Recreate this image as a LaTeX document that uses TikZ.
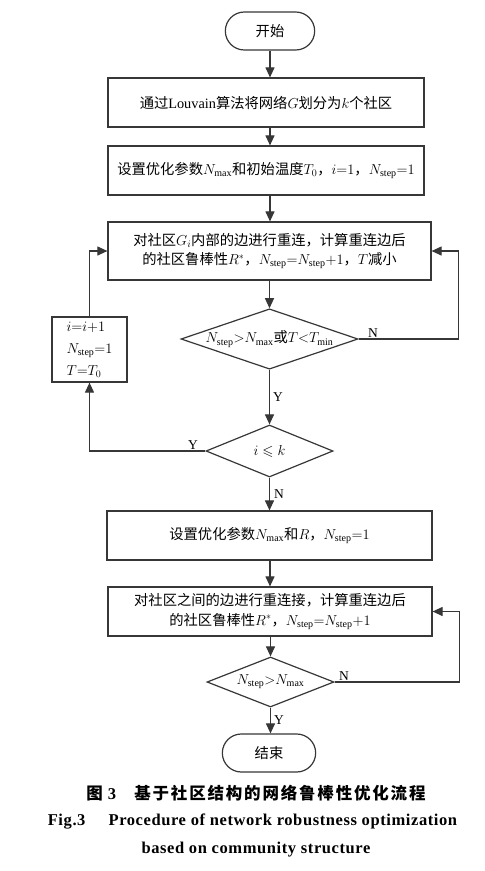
\documentclass[tikz,border=0pt]{standalone}
\usepackage{amsmath}
\usepackage{amssymb}
\usepackage{fontspec}
\setmainfont{Liberation Serif}
\newfontfamily\cjk{Noto Sans CJK SC}
\usetikzlibrary{shapes.geometric, shapes.misc, arrows.meta}
\definecolor{Linea}{RGB}{55, 55, 55}

\begin{document}
\begin{tikzpicture}[x=1pt, y=-1pt,
        terminal/.style={rounded rectangle, draw=Linea, line width=1.2pt, minimum width=96, minimum height=38, font=\cjk\fontsize{14.3}{17}\selectfont},
        process/.style={rectangle, draw=Linea, line width=1.2pt, minimum height=49, inner sep=0pt, align=center, font=\cjk\fontsize{14.3}{19.5}\selectfont},
        decision/.style={diamond, draw=Linea, line width=1.2pt, inner sep=0pt, shape aspect=2.9, font=\cjk\fontsize{14.3}{17}\selectfont},
        tag/.style={font=\fontsize{13.5}{15}\selectfont, inner sep=1pt},
        flow/.style={draw=Linea, line width=1.1pt, -{Triangle[length=10pt, width=9pt]}},
        caption/.style={font=\bfseries\fontsize{16.5}{19}\selectfont\addfontfeature{LetterSpace=3.6}}
    ]
        \path[use as bounding box, fill=white] (0,0) rectangle (485,871);

        % 主流程：社区内部重连
        \node[terminal] (start) at (270,31) {开始};
        \node[process, minimum width=316] (init) at (266,102.5) {通过{\rmfamily Louvain}算法将网络$G$划分为$k$个社区};
        \node[process, minimum width=316] (param) at (266,170.5) {设置优化参数$N_{\max}$和初始温度$T_0$，$i{=}1$，$N_{\mathrm{step}}{=}1$};
        \node[process, minimum width=323, minimum height=58] (inner) at (269.5,251) {对社区$G_i$内部的边进行重连，计算重连边后\\的社区鲁棒性$R^*$，$N_{\mathrm{step}}{=}N_{\mathrm{step}}{+}1$，$T$减小};
        \node[decision, minimum width=177, minimum height=60] (check1) at (269.5,339) {$N_{\mathrm{step}}{>}N_{\max}$或$T{<}T_{\min}$};
        \node[process, minimum width=75, minimum height=65, align=left, font=\fontsize{14.3}{22}\selectfont] (reset) at (89.5,349.5) {$i{=}i{+}1$\\$N_{\mathrm{step}}{=}1$\\$T{=}T_0$};
        \node[decision, minimum width=127, minimum height=52, shape aspect=2.5] (check2) at (269.5,451) {$i\leqslant k$};

        % 社区之间重连
        \node[process, minimum width=325] (outer) at (269.5,535.5) {设置优化参数$N_{\max}$和$R$，$N_{\mathrm{step}}{=}1$};
        \node[process, minimum width=324] (rewire) at (270,611.5) {对社区之间的边进行重连接，计算重连边后\\的社区鲁棒性$R^*$，$N_{\mathrm{step}}{=}N_{\mathrm{step}}{+}1$};
        \node[decision, minimum width=127, minimum height=50, shape aspect=2.5] (check3) at (270.5,682) {$N_{\mathrm{step}}{>}N_{\max}$};
        \node[terminal, minimum width=100] (stop) at (269,753) {结束};

        % 连线
        \draw[flow] (start.south) -- (init.north -| start);
        \draw[flow] (init.south -| start) -- (param.north -| start);
        \draw[flow] (param.south -| start) -- (inner.north -| start);
        \draw[flow] (inner.south -| check1) -- (check1.north);
        \draw[flow] (check1.east) node[tag, above right, xshift=8pt] {N} -- ++(100,0) |- (inner.east);
        \draw[flow] (check1.south) -- node[tag, right, xshift=2pt] {Y} (check2.north);
        \draw[flow] (check2.west) node[tag, above left, xshift=-6pt] {Y} -| (reset.south);
        \draw[flow] (reset.north) |- (inner.west);
        \draw[flow] (check2.south) -- node[tag, right, xshift=3pt] {N} (outer.north -| check2);
        \draw[flow] (outer.south -| rewire) -- (rewire.north);
        \draw[flow] (rewire.south -| check3) -- (check3.north);
        \draw[flow] (check3.east) node[tag, above right, xshift=3pt] {N} -- ++(125,0) |- (rewire.east);
        \draw[flow] (check3.south) -- node[tag, right, xshift=2pt] {Y} (stop.north -| check3);

        % 图题
        \node[caption] (cap1) at (256,793) {{\cjk\addfontfeature{LetterSpace=11}图}\hspace{0.3em}3\hspace{1.1em}{\cjk\addfontfeature{LetterSpace=11}基于社区结构的网络鲁棒性优化流程}};
        \node[caption] (cap2) at (252.5,822) {Fig.3\hspace{1.4em}Procedure of network robustness optimization};
        \node[caption] (cap3) at (256,850) {based on community structure};
    \end{tikzpicture}
\end{document}
